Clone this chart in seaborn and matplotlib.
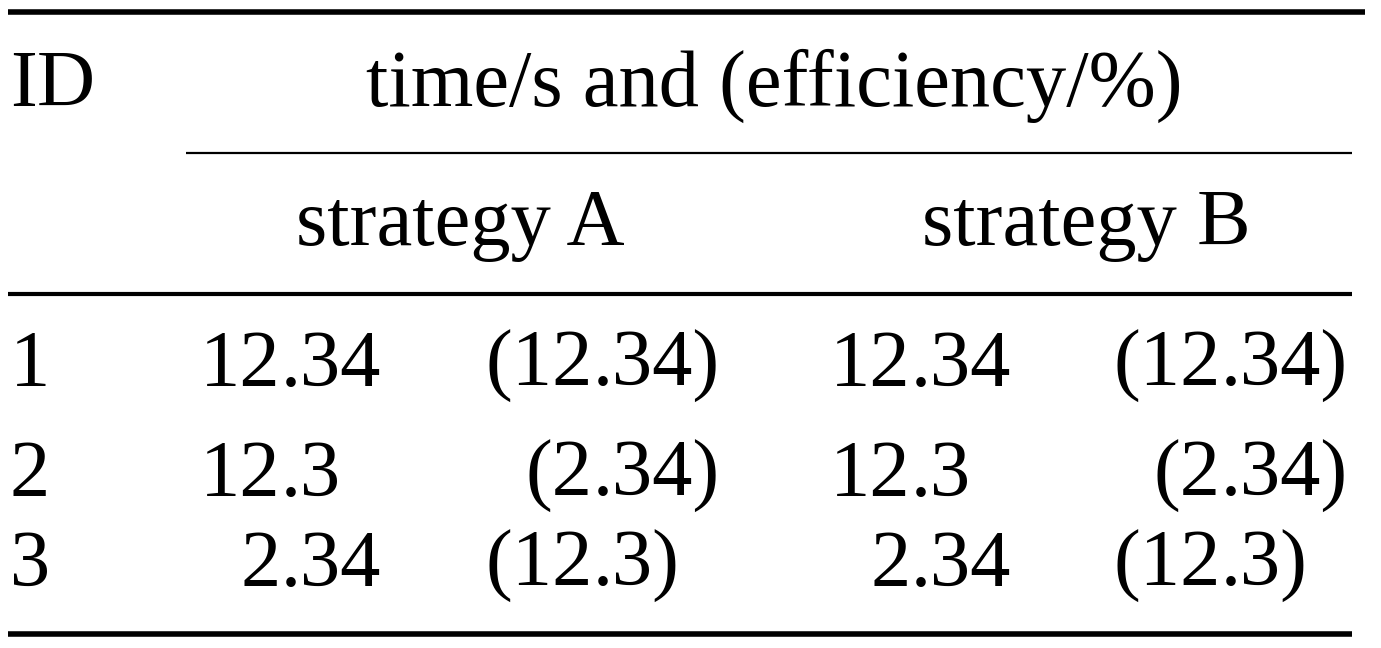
import matplotlib.pyplot as plt
import seaborn as sns

# table contents
row_ids = ["1", "2", "3"]
time_a = ["12.34", "12.3", "2.34"]
eff_a = ["12.34", "2.34", "12.3"]
time_b = ["12.34", "12.3", "2.34"]
eff_b = ["12.34", "2.34", "12.3"]
group_header = "time/s and (efficiency/%)"
sub_headers = ["strategy A", "strategy B"]

sns.set_theme(style="white")
plt.rcParams["font.family"] = ["Liberation Serif", "DejaVu Serif"]

W, H = 1381, 648
fig = plt.figure(figsize=(W / 100, H / 100), dpi=100)
ax = fig.add_axes([0, 0, 1, 1])
ax.set_xlim(0, W)
ax.set_ylim(H, 0)
ax.axis("off")

fs = 58
kw = dict(fontsize=fs, va="baseline", color="black")

# rules
ax.hlines(12, 8, 1365, color="black", lw=4)
ax.hlines(153, 186, 1352, color="black", lw=1.6)
ax.hlines(294, 8, 1352, color="black", lw=3)
ax.hlines(634, 8, 1352, color="black", lw=4)

# headers
ax.text(10, 106, "ID", ha="left", **kw)
ax.text(774, 106, group_header, ha="center", **kw)
ax.text(460, 245, sub_headers[0], ha="center", **kw)
ax.text(1086, 245, sub_headers[1], ha="center", **kw)


def decimal_cell(x_dot, y, value, paren=False):
    whole, frac = value.split(".")
    left = ("(" if paren else "") + whole
    right = "." + frac + (")" if paren else "")
    ax.text(x_dot, y, left, ha="right", **kw)
    ax.text(x_dot, y, right, ha="left", **kw)


baselines = [386, 496, 586]
for i, y in enumerate(baselines):
    ax.text(10, y, row_ids[i], ha="left", **kw)
    decimal_cell(281, y, time_a[i])
    decimal_cell(593, y, eff_a[i], paren=True)
    decimal_cell(911, y, time_b[i])
    decimal_cell(1221, y, eff_b[i], paren=True)

fig.savefig("out.png", dpi=100, facecolor="white")
